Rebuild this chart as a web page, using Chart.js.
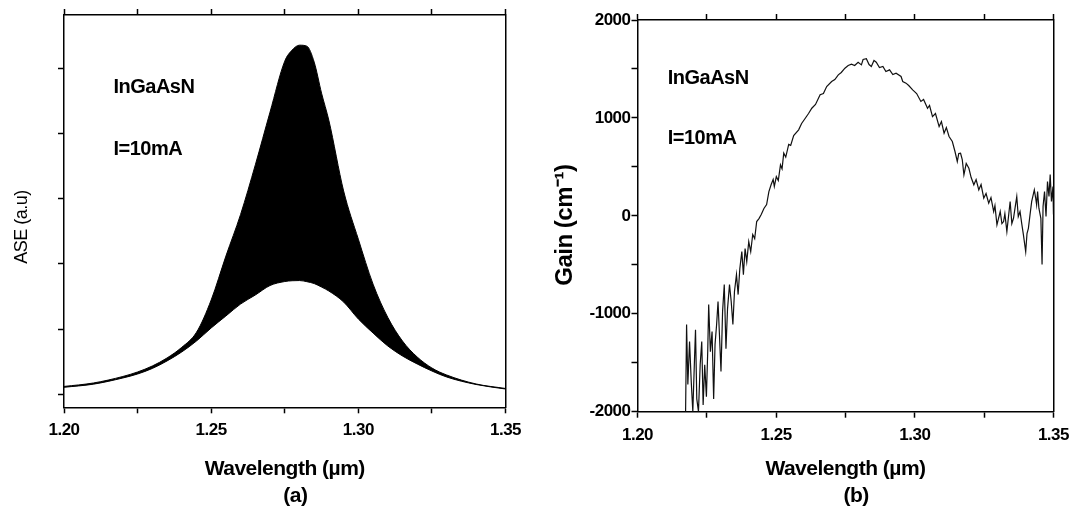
<!DOCTYPE html>
<html><head><meta charset="utf-8">
<script src="https://cdn.jsdelivr.net/npm/chart.js@4.4.0/dist/chart.umd.min.js"></script>
<style>
html,body{margin:0;padding:0;background:#fff;width:1077px;height:509px;overflow:hidden;}
#a{position:absolute;left:0;top:0;}
#b{position:absolute;left:540px;top:0;}
</style></head><body>
<canvas id="a" width="540" height="509"></canvas>
<canvas id="b" width="537" height="509"></canvas>
<script>
// ---- tick values / labels ----
const wavelengthTicks = [1.200, 1.225, 1.250, 1.275, 1.300, 1.325, 1.350];
const wavelengthTickLabels = ['1.20', '', '1.25', '', '1.30', '', '1.35'];
const aseTicks = [0, 1, 2, 3, 4, 5];
const gainTicks = [-2000, -1500, -1000, -500, 0, 500, 1000, 1500, 2000];
const gainTickLabels = ['-2000', '', '-1000', '', '0', '', '1000', '', '2000'];

// ---- (a) ASE spectrum: upper / lower envelope of the fringes (a.u.) ----
const wavelengthA = [1.200, 1.210, 1.220, 1.225, 1.230, 1.235, 1.240, 1.245, 1.250, 1.255, 1.260, 1.265, 1.270, 1.275, 1.2775, 1.280, 1.2825, 1.285, 1.2875, 1.290, 1.295, 1.300, 1.305, 1.310, 1.315, 1.320, 1.325, 1.330, 1.340, 1.350];
const aseLower = [0.107, 0.155, 0.250, 0.311, 0.396, 0.511, 0.649, 0.817, 1.017, 1.201, 1.385, 1.523, 1.669, 1.730, 1.742, 1.745, 1.728, 1.699, 1.645, 1.584, 1.416, 1.155, 0.940, 0.741, 0.587, 0.465, 0.357, 0.265, 0.150, 0.081];
const aseUpper = [0.120, 0.173, 0.273, 0.342, 0.434, 0.557, 0.720, 0.950, 1.446, 2.120, 2.760, 3.520, 4.330, 5.112, 5.281, 5.357, 5.342, 5.097, 4.621, 4.200, 3.120, 2.380, 1.690, 1.180, 0.817, 0.572, 0.403, 0.296, 0.158, 0.089];

// ---- (b) Gain spectrum (cm^-1) ----
const wavelengthB = [1.21734, 1.21770, 1.21816, 1.21877, 1.21938, 1.21995, 1.22056, 1.22092, 1.22138, 1.22199, 1.22260, 1.22317, 1.22367, 1.22424, 1.22485, 1.22532, 1.22567, 1.22628, 1.22689, 1.22746, 1.22796, 1.22853, 1.22904, 1.22961, 1.23011, 1.23068, 1.23129, 1.23190, 1.23247, 1.23318, 1.23379, 1.23440, 1.23497, 1.23569, 1.23629, 1.23690, 1.23762, 1.23819, 1.23880, 1.23940, 1.24012, 1.24083, 1.24155, 1.24226, 1.24298, 1.24380, 1.24462, 1.24559, 1.24656, 1.24738, 1.24820, 1.24892,
  1.24934, 1.25006, 1.25077, 1.25156, 1.25213, 1.25274, 1.25346, 1.25453, 1.25524, 1.25632, 1.25811, 1.25918, 1.26050, 1.26168, 1.26286, 1.26419, 1.26586, 1.26704, 1.26822, 1.27001, 1.27116, 1.27241, 1.27348, 1.27480, 1.27598, 1.27716, 1.27831, 1.27956, 1.28074, 1.28135, 1.28253, 1.28350, 1.28432, 1.28528, 1.28610, 1.28725, 1.28850, 1.28957, 1.29090, 1.29207, 1.29325, 1.29504, 1.29565, 1.29683, 1.29780, 1.29923, 1.30066, 1.30219, 1.30316, 1.30459, 1.30531, 1.30638, 1.30745, 1.30877, 1.30960, 1.31056, 1.31138, 1.31235, 1.31353, 1.31449, 1.31532, 1.31585, 1.31650, 1.31711, 1.31771, 1.31854, 1.31950, 1.32032, 1.32129, 1.32211, 1.32308, 1.32390, 1.32487, 1.32569, 1.32665, 1.32747, 1.32844, 1.32890, 1.32962, 1.33080, 1.33141, 1.33202, 1.33248, 1.33320, 1.33438, 1.33499, 1.33559, 1.33606, 1.33677, 1.33731, 1.33795, 1.33856, 1.33917, 1.33999, 1.34046, 1.34096, 1.34160, 1.34214, 1.34310, 1.34356, 1.34393, 1.34428, 1.34475, 1.34546, 1.34589, 1.34625, 1.34678, 1.34732, 1.34785, 1.34839, 1.34882, 1.34928, 1.34982, 1.35000];
const gainB = [-2000, -1110, -1723, -1284, -1693, -2000, -1460, -1164, -1869, -2000, -1521, -1284, -1931, -1521, -1848, -1388, -906, -1388, -1182, -1869, -1315, -1110, -875, -1253, -1590, -978, -702, -1356, -947, -702, -875, -1110, -773, -600, -804, -539, -365, -600, -334, -467, -263, -365, -191, -232, -58, -28, 13, 75, 115, 248, 320, 371,
  300, 400, 360, 520, 480, 640, 600, 730, 720, 820, 878, 943, 997, 1045, 1099, 1137, 1236, 1249, 1321, 1372, 1392, 1440, 1464, 1508, 1535, 1549, 1535, 1569, 1542, 1597, 1604, 1545, 1525, 1586, 1569, 1515, 1525, 1474, 1491, 1443, 1457, 1423, 1372, 1355, 1331, 1287, 1249, 1168, 1188, 1099, 1127, 1014, 1045, 912, 963, 844, 902, 810, 759, 657, 555, 636, 639, 575, 419, 534, 486, 391, 317, 371, 266, 320, 180, 228, 129, 187, 44, 105, -92, 44, -79, -58, 23, -160, 146, -79, -25, 64, 197, -7, 44, -79, -194, -365, -181, -127, 23, 146, 266, 187, 112, 248, 78, -25, -497, 95, 248, -7, 350, 197, 422, 146, 299, 13];

// ---- text annotations ----
const annotationText = ['InGaAsN', 'I=10mA'];

const FF = '"Liberation Sans", Arial, Helvetica, sans-serif';
const BLACK = '#000';

const annotPlugin = {
  id: 'annot',
  beforeDraw(chart) { chart.ctx.letterSpacing = '-0.5px'; },
  afterDraw(chart, args, opts) {
    const ctx = chart.ctx, xs = chart.scales.x, ys = chart.scales.y;
    ctx.save();
    ctx.font = 'bold 20px ' + FF;
    ctx.letterSpacing = '-0.5px';
    ctx.fillStyle = BLACK;
    ctx.textAlign = 'left';
    ctx.textBaseline = 'middle';
    opts.items.forEach((it, i) => ctx.fillText(annotationText[i], xs.getPixelForValue(it.x), ys.getPixelForValue(it.y)));
    ctx.restore();
  }
};

function baseScales(cfg) {
  const tickFont = {family: FF, size: 17, weight: 'bold'};
  return {
    x: {
      type: 'linear', position: 'bottom', min: 1.2, max: 1.35,
      afterBuildTicks: s => { s.ticks = wavelengthTicks.map(v => ({value: v})); },
      ticks: {callback: (v, i) => wavelengthTickLabels[i], font: tickFont, color: BLACK, padding: 7, maxRotation: 0, autoSkip: false},
      grid: {drawOnChartArea: false, tickLength: 6, tickColor: BLACK, tickWidth: 1.5},
      border: {color: BLACK, width: 1.5},
      title: {display: true, text: ['Wavelength (\u00b5m)', '    ' + cfg.letter], color: BLACK,
              font: {family: FF, size: 21, weight: 'bold', lineHeight: 1.25}, padding: {top: 0, bottom: 0}},
      afterFit: s => { s.height = cfg.xHeight; }
    },
    xTop: {
      axis: 'x', type: 'linear', position: 'top', min: 1.2, max: 1.35,
      afterBuildTicks: s => { s.ticks = wavelengthTicks.map(v => ({value: v})); },
      ticks: {display: false},
      grid: {drawOnChartArea: false, tickLength: 6, tickColor: BLACK, tickWidth: 1.5},
      border: {color: BLACK, width: 1.5},
      afterFit: s => { s.height = 8; }
    },
    y: {
      type: 'linear', position: 'left', min: cfg.yMin, max: cfg.yMax,
      afterBuildTicks: s => { s.ticks = cfg.yTicks.map(v => ({value: v})); },
      ticks: {callback: (v, i) => cfg.yLabels[i], font: tickFont, color: BLACK, padding: 1, autoSkip: false},
      grid: {drawOnChartArea: false, tickLength: 6, tickColor: BLACK, tickWidth: 1.5},
      border: {color: BLACK, width: 1.5},
      title: {display: true, text: cfg.yTitle, color: BLACK, font: cfg.yTitleFont, padding: {top: cfg.yTitlePad, bottom: 0}},
      afterFit: s => { s.width = cfg.yWidth; }
    },
    yRight: {
      axis: 'y', type: 'linear', position: 'right', min: cfg.yMin, max: cfg.yMax,
      ticks: {display: false},
      grid: {display: true, drawOnChartArea: false, drawTicks: false},
      border: {color: BLACK, width: 1.5},
      afterFit: s => { s.width = 0; }
    }
  };
}

// (a)
new Chart(document.getElementById('a'), {
  type: 'line',
  data: {datasets: [
    {data: wavelengthA.map((x, i) => ({x, y: aseLower[i]})), borderColor: BLACK, borderWidth: 1, pointRadius: 0, fill: false, cubicInterpolationMode: 'monotone'},
    {data: wavelengthA.map((x, i) => ({x, y: aseUpper[i]})), borderColor: BLACK, borderWidth: 1, pointRadius: 0, fill: '-1', backgroundColor: BLACK, cubicInterpolationMode: 'monotone'}
  ]},
  options: {
    responsive: false, animation: false, devicePixelRatio: 1,
    layout: {padding: {top: 7, right: 34.5, bottom: 0, left: 0}},
    plugins: {legend: {display: false}, tooltip: {enabled: false},
      annot: {items: [{x: 1.2168, y: 4.71}, {x: 1.2168, y: 3.75}]}},
    scales: baseScales({letter: '(a)', xHeight: 101.7, yMin: -0.2, yMax: 5.82, yTicks: aseTicks,
      yLabels: aseTicks.map(() => ''), yTitle: 'ASE (a.u)       ', yTitleFont: {family: FF, size: 18, weight: 'normal'},
      yTitlePad: 11, yWidth: 64})
  },
  plugins: [annotPlugin]
});

// (b)
new Chart(document.getElementById('b'), {
  type: 'line',
  data: {datasets: [
    {data: wavelengthB.map((x, i) => ({x, y: gainB[i]})), borderColor: '#111', borderWidth: 1.2, pointRadius: 0, fill: false, tension: 0}
  ]},
  options: {
    responsive: false, animation: false, devicePixelRatio: 1,
    layout: {padding: {top: 12, right: 20, bottom: 0, left: 0}},
    plugins: {legend: {display: false}, tooltip: {enabled: false},
      annot: {items: [{x: 1.2109, y: 1400}, {x: 1.2109, y: 790}]}},
    scales: baseScales({letter: '(b)', xHeight: 97.3, yMin: -2000, yMax: 2000, yTicks: gainTicks,
      yLabels: gainTickLabels, yTitle: 'Gain (cm\u207B\u00B9)   ', yTitleFont: {family: FF, size: 24, weight: 'bold'},
      yTitlePad: 11, yWidth: 97.5})
  },
  plugins: [annotPlugin]
});
</script>
</body></html>
